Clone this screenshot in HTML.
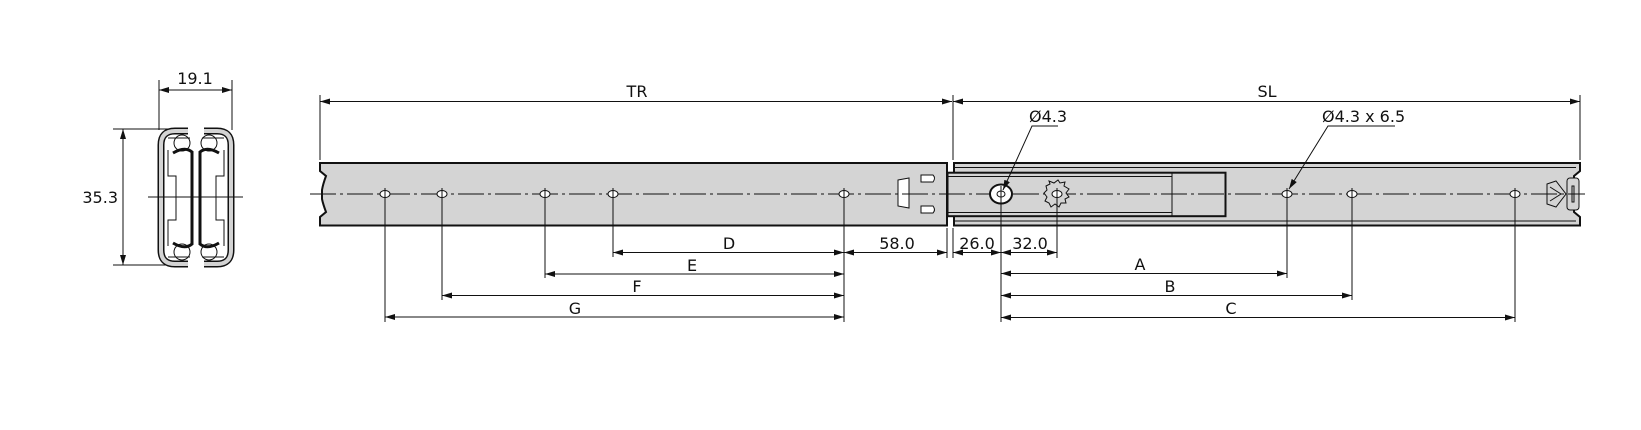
<!DOCTYPE html>
<html><head><meta charset="utf-8"><style>
html,body{margin:0;padding:0;background:#fff;}
svg{display:block;}
text{font-family:"DejaVu Sans","Liberation Sans",sans-serif;font-size:16px;fill:#111;}
</style></head><body>
<svg width="1641" height="430" viewBox="0 0 1641 430" xmlns="http://www.w3.org/2000/svg">
<defs>
<marker id="a" viewBox="0 0 10 6" refX="10" refY="3" markerWidth="10" markerHeight="6" orient="auto-start-reverse" markerUnits="userSpaceOnUse"><path d="M0,0 L10,3 L0,6 Z" fill="#111"/></marker>
</defs>
<g stroke="#111" fill="none" stroke-width="1">

<!-- profile view -->
<line x1="159" y1="80" x2="159" y2="130"/><line x1="232" y1="80" x2="232" y2="130"/>
<line x1="159" y1="90" x2="232" y2="90" marker-start="url(#a)" marker-end="url(#a)"/>
<line x1="113" y1="129" x2="172" y2="129"/><line x1="113" y1="265" x2="172" y2="265"/>
<line x1="123" y1="129" x2="123" y2="265" marker-start="url(#a)" marker-end="url(#a)"/>
<path d="M188,131 L175,131 Q161,131 161,145 L161,250 Q161,264 175,264 L188,264" stroke-width="7"/>
<path d="M188,131 L175,131 Q161,131 161,145 L161,250 Q161,264 175,264 L188,264" stroke="#d3d3d3" stroke-width="4"/>
<path d="M204,131 L217,131 Q231,131 231,145 L231,250 Q231,264 217,264 L204,264" stroke-width="7"/>
<path d="M204,131 L217,131 Q231,131 231,145 L231,250 Q231,264 217,264 L204,264" stroke="#d3d3d3" stroke-width="4"/>
<circle cx="182" cy="143" r="8" fill="#fff"/><circle cx="209" cy="143" r="8" fill="#fff"/>
<circle cx="182" cy="252" r="8" fill="#fff"/><circle cx="209" cy="252" r="8" fill="#fff"/>
<line x1="168" y1="138" x2="190" y2="138"/><line x1="202" y1="138" x2="224" y2="138"/>
<line x1="168" y1="257" x2="190" y2="257"/><line x1="202" y1="257" x2="224" y2="257"/>
<path d="M173,153 Q185,146 192,152 L192,244 Q185,250 173,243" stroke-width="3"/>
<path d="M219,153 Q207,146 200,152 L200,244 Q207,250 219,243" stroke-width="3"/>
<path d="M168,150 L168,176 L176,176 L176,220 L168,220 L168,246"/>
<path d="M224,150 L224,176 L216,176 L216,220 L224,220 L224,246"/>
<line x1="148" y1="197" x2="243" y2="197"/>

<!-- TR / SL top dims -->
<line x1="320" y1="95" x2="320" y2="160"/>
<line x1="953" y1="95" x2="953" y2="160"/>
<line x1="1580" y1="95" x2="1580" y2="160"/>
<line x1="320" y1="101.5" x2="952" y2="101.5" marker-start="url(#a)" marker-end="url(#a)"/>
<line x1="953" y1="101.5" x2="1580" y2="101.5" marker-start="url(#a)" marker-end="url(#a)"/>

<!-- TR rail -->
<path d="M320,163 L947,163 L947,225.5 L320,225.5 L320,217 L326,212 Q323,204 322,199 L322,190 Q323,184 326,176 L320,171 Z" fill="#d4d4d4" stroke-width="2"/>
<path d="M898,180 L909,178 L909,208 L898,206 Z" fill="#fff"/>
<path d="M921,175 L933,175 Q936,178 933,182 L921,182 Z" fill="#fff"/>
<path d="M921,213 L933,213 Q936,210 933,206 L921,206 Z" fill="#fff"/>

<!-- SL outer rail -->
<path d="M954,163 L1580,163 L1580,171 L1574,176 L1574,212 L1580,217 L1580,225.5 L954,225.5 Z" fill="#d4d4d4" stroke-width="2"/>
<line x1="954" y1="167.5" x2="1576" y2="167.5"/><line x1="954" y1="221" x2="1576" y2="221"/>
<rect x="947.5" y="172.7" width="278" height="43.5" fill="#d4d4d4" stroke-width="2"/>
<line x1="1172" y1="173" x2="1172" y2="216"/>
<line x1="948" y1="176.5" x2="1172" y2="176.5"/><line x1="948" y1="212.5" x2="1172" y2="212.5"/>
<!-- latch -->
<path d="M1547,184 L1556,181 L1566,194 L1556,207 L1547,204 Z" fill="#d4d4d4"/>
<path d="M1550,187 L1561,194 L1550,201" />
<rect x="1567" y="178" width="12" height="32" rx="3" fill="#d4d4d4"/>
<rect x="1572" y="186" width="2" height="16"/>

<!-- centerline -->
<line x1="310" y1="194" x2="1585" y2="194" stroke-dasharray="26,4,3,4"/>

<!-- holes -->
<g fill="#fff">
<ellipse cx="385" cy="194" rx="5" ry="3.5"/><ellipse cx="442" cy="194" rx="5" ry="3.5"/>
<ellipse cx="545" cy="194" rx="5" ry="3.5"/><ellipse cx="613" cy="194" rx="5" ry="3.5"/>
<ellipse cx="844" cy="194" rx="5" ry="3.5"/>
<ellipse cx="1287" cy="194" rx="5" ry="3.5"/><ellipse cx="1352" cy="194" rx="5" ry="3.5"/>
<ellipse cx="1515" cy="194" rx="5" ry="3.5"/>
<ellipse cx="1001" cy="194" rx="11" ry="9.5" stroke-width="2"/>
<ellipse cx="1001" cy="194" rx="4" ry="3"/>
<path d="M1046,186 L1050,184 L1049,181 L1054,183 L1058,180 L1060,183 L1065,182 L1064,186 L1069,189 L1066,193 L1069,197 L1065,199 L1066,203 L1061,203 L1059,207 L1055,204 L1051,207 L1049,203 L1045,201 L1047,197 L1044,193 L1047,190 Z" fill="#d4d4d4"/>
<ellipse cx="1057" cy="194" rx="5" ry="3.5"/>
</g>

<!-- vertical extension lines -->
<line x1="385" y1="188" x2="385" y2="322"/><line x1="442" y1="188" x2="442" y2="300"/>
<line x1="545" y1="188" x2="545" y2="278"/><line x1="613" y1="188" x2="613" y2="257"/>
<line x1="844" y1="188" x2="844" y2="322"/>
<line x1="947" y1="228" x2="947" y2="258"/><line x1="953" y1="228" x2="953" y2="258"/>
<line x1="1001" y1="186" x2="1001" y2="322"/>
<line x1="1057" y1="188" x2="1057" y2="258"/>
<line x1="1287" y1="188" x2="1287" y2="278"/>
<line x1="1352" y1="188" x2="1352" y2="300"/>
<line x1="1515" y1="188" x2="1515" y2="322"/>

<!-- bottom dims -->
<line x1="613" y1="252.5" x2="844" y2="252.5" marker-start="url(#a)" marker-end="url(#a)"/>
<line x1="545" y1="274" x2="844" y2="274" marker-start="url(#a)" marker-end="url(#a)"/>
<line x1="442" y1="295.5" x2="844" y2="295.5" marker-start="url(#a)" marker-end="url(#a)"/>
<line x1="385" y1="317" x2="844" y2="317" marker-start="url(#a)" marker-end="url(#a)"/>
<line x1="844" y1="252.5" x2="947" y2="252.5" marker-start="url(#a)" marker-end="url(#a)"/>
<line x1="953" y1="252.5" x2="1001" y2="252.5" marker-start="url(#a)" marker-end="url(#a)"/>
<line x1="1001" y1="252.5" x2="1057" y2="252.5" marker-start="url(#a)" marker-end="url(#a)"/>
<line x1="1001" y1="273.5" x2="1287" y2="273.5" marker-start="url(#a)" marker-end="url(#a)"/>
<line x1="1001" y1="295.5" x2="1352" y2="295.5" marker-start="url(#a)" marker-end="url(#a)"/>
<line x1="1001" y1="317.5" x2="1515" y2="317.5" marker-start="url(#a)" marker-end="url(#a)"/>

<!-- leaders -->
<polyline points="1058,126 1032,126 1003,190" marker-end="url(#a)"/>
<polyline points="1395,126 1328,126 1289,189" marker-end="url(#a)"/>
</g>

<text x="195" y="84" text-anchor="middle">19.1</text>
<text x="118" y="203" text-anchor="end">35.3</text>
<text x="637" y="97" text-anchor="middle">TR</text>
<text x="1267" y="97" text-anchor="middle">SL</text>
<text x="1029" y="122">Ø4.3</text>
<text x="1322" y="122">Ø4.3 x 6.5</text>
<text x="729" y="249" text-anchor="middle">D</text>
<text x="692" y="271" text-anchor="middle">E</text>
<text x="637" y="292" text-anchor="middle">F</text>
<text x="575" y="314" text-anchor="middle">G</text>
<text x="897" y="249" text-anchor="middle">58.0</text>
<text x="977" y="249" text-anchor="middle">26.0</text>
<text x="1030" y="249" text-anchor="middle">32.0</text>
<text x="1140" y="270" text-anchor="middle">A</text>
<text x="1170" y="292" text-anchor="middle">B</text>
<text x="1231" y="314" text-anchor="middle">C</text>
</svg>
</body></html>
